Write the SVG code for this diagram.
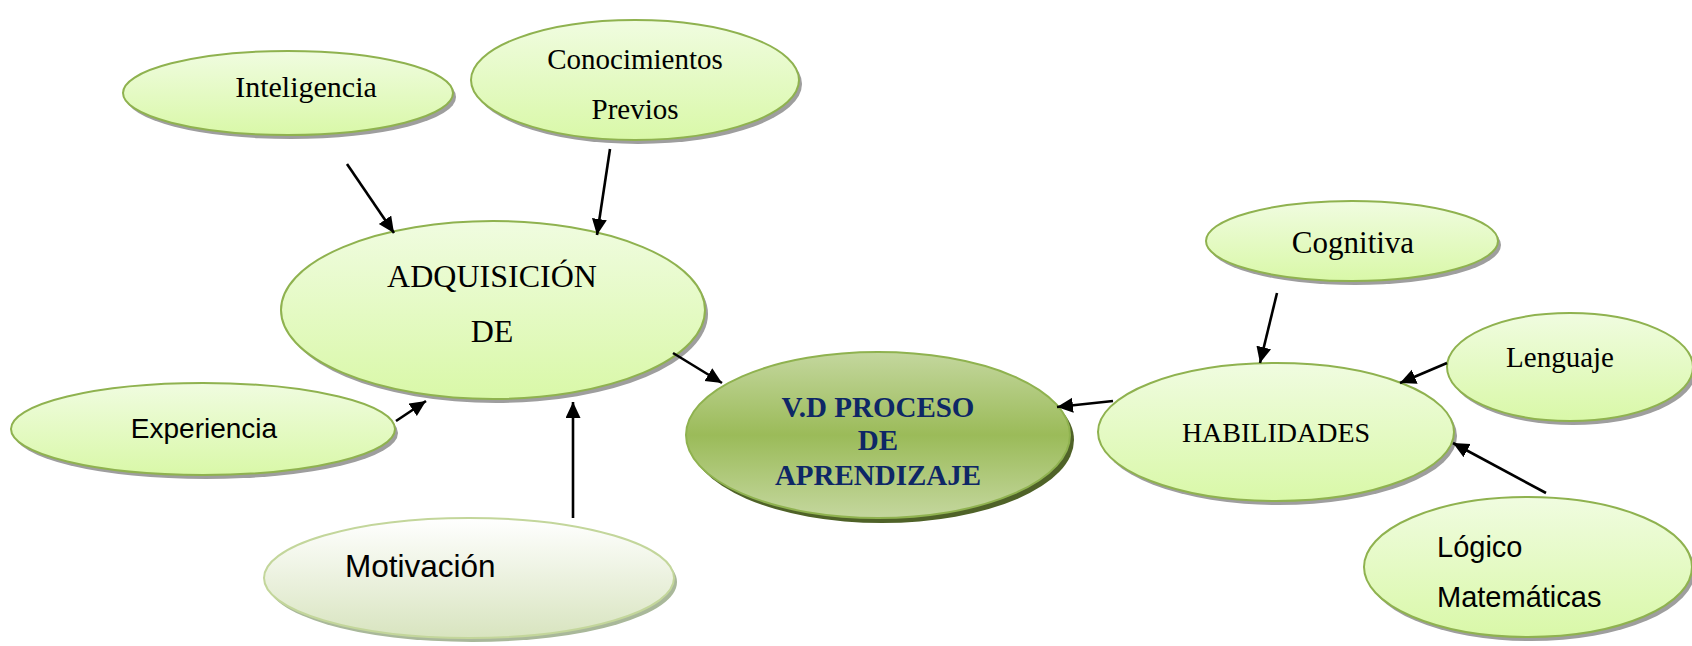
<svg xmlns="http://www.w3.org/2000/svg" width="1692" height="646" viewBox="0 0 1692 646">
<defs>
  <linearGradient id="gLight" x1="0" y1="0" x2="0" y2="1">
    <stop offset="0" stop-color="#F0FCE0"/>
    <stop offset="1" stop-color="#D9F8A8"/>
  </linearGradient>
  <linearGradient id="gMot" x1="0" y1="0" x2="0" y2="1">
    <stop offset="0" stop-color="#FFFFFF"/>
    <stop offset="1" stop-color="#D8E4BF"/>
  </linearGradient>
  <linearGradient id="gMain" x1="0" y1="0" x2="0" y2="1">
    <stop offset="0" stop-color="#C4D79E"/>
    <stop offset="0.5" stop-color="#9BBB59"/>
    <stop offset="1" stop-color="#C4D79E"/>
  </linearGradient>
  <marker id="arr" markerUnits="userSpaceOnUse" markerWidth="18" markerHeight="16" refX="16" refY="7.5" orient="auto">
    <path d="M0,0 L16,7.5 L0,15 Z" fill="#000"/>
  </marker>
  <style>
    .sh { fill: #9E9E9E; }
    .nd { fill: url(#gLight); stroke: #8FB24F; stroke-width: 2; }
    .mot { fill: url(#gMot); stroke: #C3D69B; stroke-width: 2; }
    .shm { fill: #A9B89A; }
    .main { fill: url(#gMain); stroke: #8FB24F; stroke-width: 2; }
    .shd { fill: #4F6228; }
    .serif { font-family: "Liberation Serif", "Times New Roman", serif; fill: #000; }
    .sans { font-family: "Liberation Sans", Arial, sans-serif; fill: #000; }
    .bold { font-family: "Liberation Serif", "Times New Roman", serif; font-weight: bold; fill: #0E2766; font-size: 29px; }
    .cn line { stroke: #000; stroke-width: 2.6; marker-end: url(#arr); }
  </style>
</defs>
<rect width="1692" height="646" fill="#FFFFFF"/>

<g id="inteligencia">
  <ellipse class="sh" cx="291" cy="97" rx="165" ry="42"/>
  <ellipse class="nd" cx="288" cy="93" rx="165" ry="42"/>
  <text class="serif" x="306" y="97" font-size="30" text-anchor="middle">Inteligencia</text>
</g>

<g id="conocimientos">
  <ellipse class="sh" cx="638" cy="84" rx="164" ry="60"/>
  <ellipse class="nd" cx="635" cy="80" rx="164" ry="60"/>
  <text class="serif" x="635" y="69" font-size="29" text-anchor="middle">Conocimientos</text>
  <text class="serif" x="635" y="119" font-size="29" text-anchor="middle">Previos</text>
</g>

<g id="adquisicion">
  <ellipse class="sh" cx="496" cy="314" rx="212" ry="89"/>
  <ellipse class="nd" cx="493" cy="310" rx="212" ry="89"/>
  <text class="serif" x="492" y="287" font-size="32" text-anchor="middle">ADQUISICIÓN</text>
  <text class="serif" x="492" y="342" font-size="32" text-anchor="middle">DE</text>
</g>

<g id="experiencia">
  <ellipse class="sh" cx="206" cy="433" rx="192" ry="46"/>
  <ellipse class="nd" cx="203" cy="429" rx="192" ry="46"/>
  <text class="sans" x="204" y="438" font-size="28" text-anchor="middle">Experiencia</text>
</g>

<g id="motivacion">
  <ellipse class="shm" cx="472" cy="582" rx="205" ry="60"/>
  <ellipse class="mot" cx="469" cy="578" rx="205" ry="60"/>
  <text class="sans" x="345" y="577" font-size="31.5">Motivación</text>
</g>

<g id="proceso">
  <ellipse class="shd" cx="882" cy="440" rx="192" ry="83"/>
  <ellipse class="main" cx="878" cy="435" rx="192" ry="83"/>
  <text class="bold" x="878" y="417" text-anchor="middle">V.D PROCESO</text>
  <text class="bold" x="878" y="450" text-anchor="middle">DE</text>
  <text class="bold" x="878" y="485" text-anchor="middle">APRENDIZAJE</text>
</g>

<g id="cognitiva">
  <ellipse class="sh" cx="1355" cy="245" rx="146" ry="40"/>
  <ellipse class="nd" cx="1352" cy="241" rx="146" ry="40"/>
  <text class="serif" x="1353" y="253" font-size="31" text-anchor="middle">Cognitiva</text>
</g>

<g id="lenguaje">
  <ellipse class="sh" cx="1573" cy="371" rx="123" ry="54"/>
  <ellipse class="nd" cx="1570" cy="367" rx="123" ry="54"/>
  <text class="serif" x="1560" y="367" font-size="29" text-anchor="middle">Lenguaje</text>
</g>

<g id="habilidades">
  <ellipse class="sh" cx="1279" cy="436" rx="178" ry="69"/>
  <ellipse class="nd" cx="1276" cy="432" rx="178" ry="69"/>
  <text class="serif" x="1276" y="442" font-size="28" text-anchor="middle">HABILIDADES</text>
</g>

<g id="logico">
  <ellipse class="sh" cx="1531" cy="571" rx="164" ry="70"/>
  <ellipse class="nd" cx="1528" cy="567" rx="164" ry="70"/>
  <text class="sans" x="1437" y="557" font-size="29">Lógico</text>
  <text class="sans" x="1437" y="607" font-size="29">Matemáticas</text>
</g>

<g id="connectors" class="cn">
  <line x1="347" y1="164" x2="394" y2="233"/>
  <line x1="610" y1="149" x2="597" y2="235"/>
  <line x1="396" y1="421" x2="426" y2="401"/>
  <line x1="573" y1="518" x2="573" y2="402"/>
  <line x1="673" y1="353" x2="722" y2="383"/>
  <line x1="1113" y1="401" x2="1057" y2="407"/>
  <line x1="1277" y1="293" x2="1260" y2="363"/>
  <line x1="1447" y1="363" x2="1400" y2="383"/>
  <line x1="1546" y1="493" x2="1453" y2="443"/>
</g>
</svg>
